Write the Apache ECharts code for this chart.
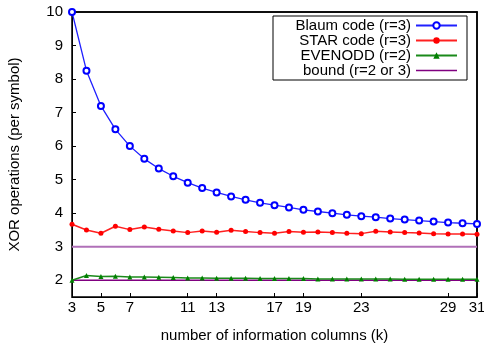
<!DOCTYPE html>
<html>
<head>
<meta charset="utf-8">
<script src="https://cdn.jsdelivr.net/npm/echarts@6/dist/echarts.min.js"></script>
<style>
  html, body { margin: 0; padding: 0; background: #fff; }
  #chart { width: 484px; height: 343px; }
</style>
</head>
<body>
<div id="chart"></div>
<script>
// information columns k
const columns = [3, 4, 5, 6, 7, 8, 9, 10, 11, 12, 13, 14, 15, 16, 17, 18, 19, 20, 21, 22, 23, 24, 25, 26, 27, 28, 29, 30, 31];
const blaum = [10, 8.25, 7.2, 6.5, 6, 5.62, 5.33, 5.1, 4.91, 4.75, 4.62, 4.5, 4.4, 4.31, 4.24, 4.17, 4.1, 4.05, 4.0, 3.95, 3.91, 3.88, 3.84, 3.81, 3.78, 3.75, 3.72, 3.7, 3.68];
const star = [3.67, 3.5, 3.4, 3.61, 3.51, 3.59, 3.52, 3.47, 3.42, 3.47, 3.43, 3.49, 3.45, 3.42, 3.4, 3.45, 3.43, 3.44, 3.42, 3.4, 3.39, 3.46, 3.44, 3.42, 3.41, 3.39, 3.38, 3.38, 3.37];
const evenodd = [2.0, 2.14, 2.11, 2.12, 2.1, 2.1, 2.09, 2.08, 2.07, 2.07, 2.06, 2.06, 2.06, 2.05, 2.05, 2.05, 2.05, 2.04, 2.04, 2.04, 2.04, 2.04, 2.04, 2.03, 2.03, 2.03, 2.03, 2.03, 2.03];
const boundR3 = [3, 3];
const boundR2 = [2, 2];
const boundCols = [3, 31];
const xTicks = [3, 5, 7, 11, 13, 17, 19, 23, 29, 31];
const yTicks = [2, 3, 4, 5, 6, 7, 8, 9, 10];

const pairs = (xs, ys) => xs.map((x, i) => [x, ys[i]]);
const font = "Liberation Sans, Arial, sans-serif";

const chart = echarts.init(document.getElementById("chart"));

const tick = (values) => ({ show: true, customValues: values, inside: true, length: 4, lineStyle: { color: "#000", width: 1 } });
const border = (w) => ({ show: true, onZero: false, lineStyle: { color: "#000", width: w } });

chart.setOption({
  animation: false,
  grid: {
    left: 72, right: 7, top: 12, bottom: 46,
    outerBoundsMode: "none",
    show: true, borderColor: "#000", borderWidth: 1.5
  },
  legend: {
    orient: "vertical",
    right: 17,
    top: 16,
    align: "right",
    itemWidth: 41,
    itemHeight: 8,
    itemGap: 0,
    padding: [2, 9, 2, 12],
    borderColor: "#000",
    borderWidth: 1,
    backgroundColor: "#fff",
    textStyle: { fontSize: 15, lineHeight: 15, color: "#000", fontFamily: font, width: 126, align: "right" },
    data: [
      "Blaum code (r=3)",
      "STAR code (r=3)",
      "EVENODD (r=2)",
      { name: "bound (r=2 or 3)", icon: "path://M0 0H41V1.5H0Z", itemStyle: { color: "#800080" } }
    ]
  },
  xAxis: [
    {
      type: "value",
      min: 3,
      max: 31,
      name: "number of information columns (k)",
      nameLocation: "middle",
      nameGap: 31,
      nameTextStyle: { fontSize: 15, color: "#000", fontFamily: font },
      axisLine: border(1),
      axisTick: tick(xTicks),
      axisLabel: { customValues: xTicks, fontSize: 15, color: "#000", margin: 3, fontFamily: font },
      splitLine: { show: false }
    },
    {
      type: "value",
      position: "top",
      min: 3,
      max: 31,
      axisLine: border(1.5),
      axisTick: { show: false },
      axisLabel: { show: false },
      splitLine: { show: false }
    }
  ],
  yAxis: [
    {
      type: "value",
      min: 1.5,
      max: 10,
      name: "XOR operations (per symbol)",
      nameLocation: "middle",
      nameGap: 50,
      nameTextStyle: { fontSize: 15, color: "#000", fontFamily: font },
      axisLine: border(1),
      axisTick: tick(yTicks),
      axisLabel: { customValues: yTicks, fontSize: 15, color: "#000", margin: 9, fontFamily: font },
      splitLine: { show: false }
    },
    {
      type: "value",
      position: "right",
      min: 1.5,
      max: 10,
      axisLine: border(1.5),
      axisTick: { show: false },
      axisLabel: { show: false },
      splitLine: { show: false }
    }
  ],
  series: [
    {
      name: "bound (r=2 or 3)",
      type: "line",
      data: pairs(boundCols, boundR3),
      symbol: "none",
      color: "#800080",
      lineStyle: { color: "#b070b8", width: 2 },
      z: 1
    },
    {
      name: "bound (r=2 or 3)",
      type: "line",
      data: pairs(boundCols, boundR2),
      symbol: "none",
      color: "#800080",
      lineStyle: { color: "#800080", width: 1.5 },
      z: 1
    },
    {
      name: "EVENODD (r=2)",
      type: "line",
      data: pairs(columns, evenodd),
      symbol: "triangle",
      symbolSize: 5,
      color: "#008000",
      itemStyle: { color: "#008000" },
      lineStyle: { color: "#1a8a1a", width: 1.5 },
      z: 2
    },
    {
      name: "STAR code (r=3)",
      type: "line",
      data: pairs(columns, star),
      symbol: "circle",
      symbolSize: 5,
      color: "#ff0000",
      itemStyle: { color: "#ff0000" },
      lineStyle: { color: "#ff2020", width: 1.5 },
      z: 3
    },
    {
      name: "Blaum code (r=3)",
      type: "line",
      data: pairs(columns, blaum),
      symbol: "emptyCircle",
      symbolSize: 6,
      color: "#0000ff",
      itemStyle: { color: "#0000ff", borderWidth: 1.1 },
      lineStyle: { color: "#2020ff", width: 1.3 },
      z: 4
    }
  ]
});
</script>
</body>
</html>
